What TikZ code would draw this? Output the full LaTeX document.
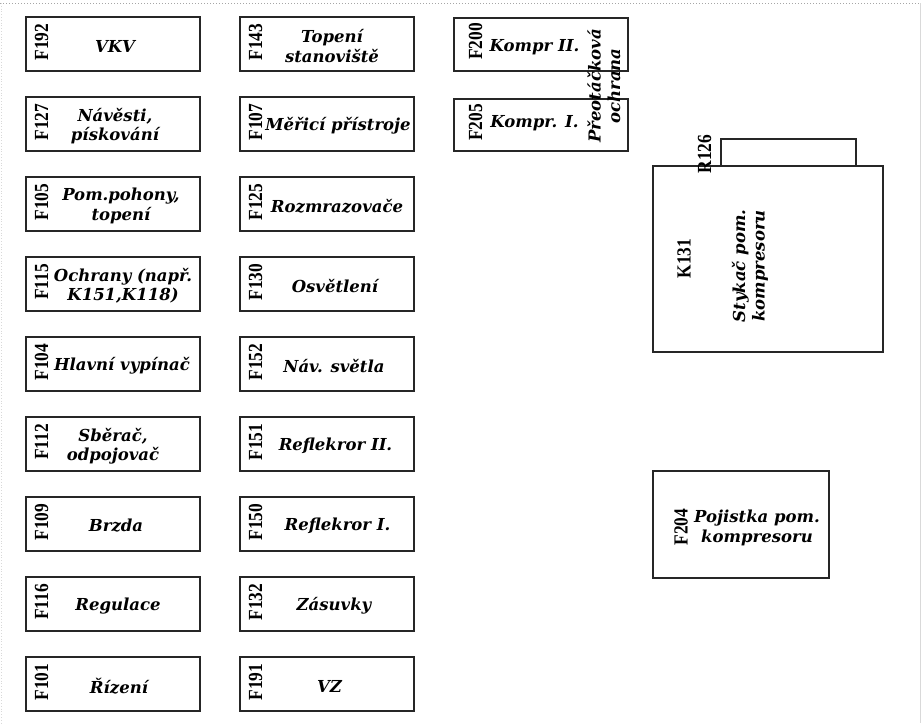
\documentclass[tikz,border=0pt]{standalone}
\usepackage{fontspec}
\setmainfont{DejaVu Serif}
\newfontfamily\labfont{Liberation Serif}
\newcommand\lbl[1]{\scalebox{0.87}[1]{#1}}
% #1 text x offset, #2 name, #3 left, #4 top, #5 label, #6 text
\newcommand\fuse[6][93]{%
  \node[fbox,minimum width=174pt,minimum height=54pt] (#2) at (#3+87,#4+27) {};
  \node[lab] (#2-l) at (#3+15.5,#4+25) {\lbl{#5}};
  \node[txt] (#2-t) at (#3+#1,#4+29) {#6};
}
\begin{document}
\begin{tikzpicture}[x=1pt,y=-1pt,
  fbox/.style={draw=black!85,line width=1.5pt,inner sep=0pt},
  lab/.style={rotate=90,font=\labfont\bfseries\fontsize{20}{20}\selectfont,inner sep=0pt},
  txt/.style={font=\bfseries\itshape\fontsize{16.5}{19.5}\selectfont,align=center,inner sep=0pt},
]
\useasboundingbox (0,0) rectangle (921,723);
\fill[white] (0,0) rectangle (921,723);
\draw[gray!70,dotted,line width=1pt] (0,3) -- (921,3);
\draw[gray!30,dotted,line width=0.8pt] (1,3) -- (1,723);
\draw[gray!30,line width=0.8pt] (920,3) -- (920,723);

% column 1
\fuse[89]{f192}{26}{17}{F192}{VKV}
\fuse[89]{f127}{26}{97}{F127}{Návěsti,\\pískování}
\fuse[95]{f105}{26}{177}{F105}{Pom.pohony,\\topení}
\fuse[97]{f115}{26}{257}{F115}{Ochrany (např.\\K151,K118)}
\fuse[96]{f104}{26}{337}{F104}{Hlavní vypínač}
\fuse[87]{f112}{26}{417}{F112}{Sběrač,\\odpojovač}
\fuse[90]{f109}{26}{497}{F109}{Brzda}
\fuse[92]{f116}{26}{577}{F116}{Regulace}
\fuse[93]{f101}{26}{657}{F101}{Řízení}

% column 2
\fuse[92]{f143}{240}{17}{F143}{Topení\\stanoviště}
\fuse[98]{f107}{240}{97}{F107}{Měřicí přístroje}
\fuse[97]{f125}{240}{177}{F125}{Rozmrazovače}
\fuse[95]{f130}{240}{257}{F130}{Osvětlení}
\fuse[94]{f152}{240}{337}{F152}{Náv. světla}
\fuse[95.5]{f151}{240}{417}{F151}{Reflekror II.}
\fuse[97.5]{f150}{240}{497}{F150}{Reflekror I.}
\fuse[94]{f132}{240}{577}{F132}{Zásuvky}
\fuse[89.5]{f191}{240}{657}{F191}{VZ}

% column 3
\node[fbox,minimum width=174pt,minimum height=53pt] (f200) at (541,44.5) {};
\node[lab] (f200-l) at (475.5,41.5) {\lbl{F200}};
\node[txt] (f200-t) at (534.5,47) {Kompr II.};
\node[fbox,minimum width=174pt,minimum height=52pt] (f205) at (541,125) {};
\node[lab] (f205-l) at (475.5,122.5) {\lbl{F205}};
\node[txt] (f205-t) at (534.5,123) {Kompr. I.};
\node[txt,rotate=90] (pto) at (604,86) {Přeotáčková\\ochrana};

% contactor
\node[fbox,minimum width=135pt,minimum height=27pt] (r126) at (788.5,152.5) {};
\node[fbox,minimum width=230pt,minimum height=186pt] (k131) at (768,259) {};
\node[lab] (r126-l) at (704.5,154) {\lbl{R126}};
\node[lab] (k131-l) at (684,258.5) {\lbl{K131}};
\node[txt,rotate=90] (k131-t) at (750,266) {Stykač pom.\\kompresoru};

% fuse F204
\node[fbox,minimum width=176pt,minimum height=107pt] (f204) at (741,524.5) {};
\node[lab] (f204-l) at (681,527) {\lbl{F204}};
\node[txt] (f204-t) at (757,528) {Pojistka pom.\\kompresoru};
\end{tikzpicture}
\end{document}
